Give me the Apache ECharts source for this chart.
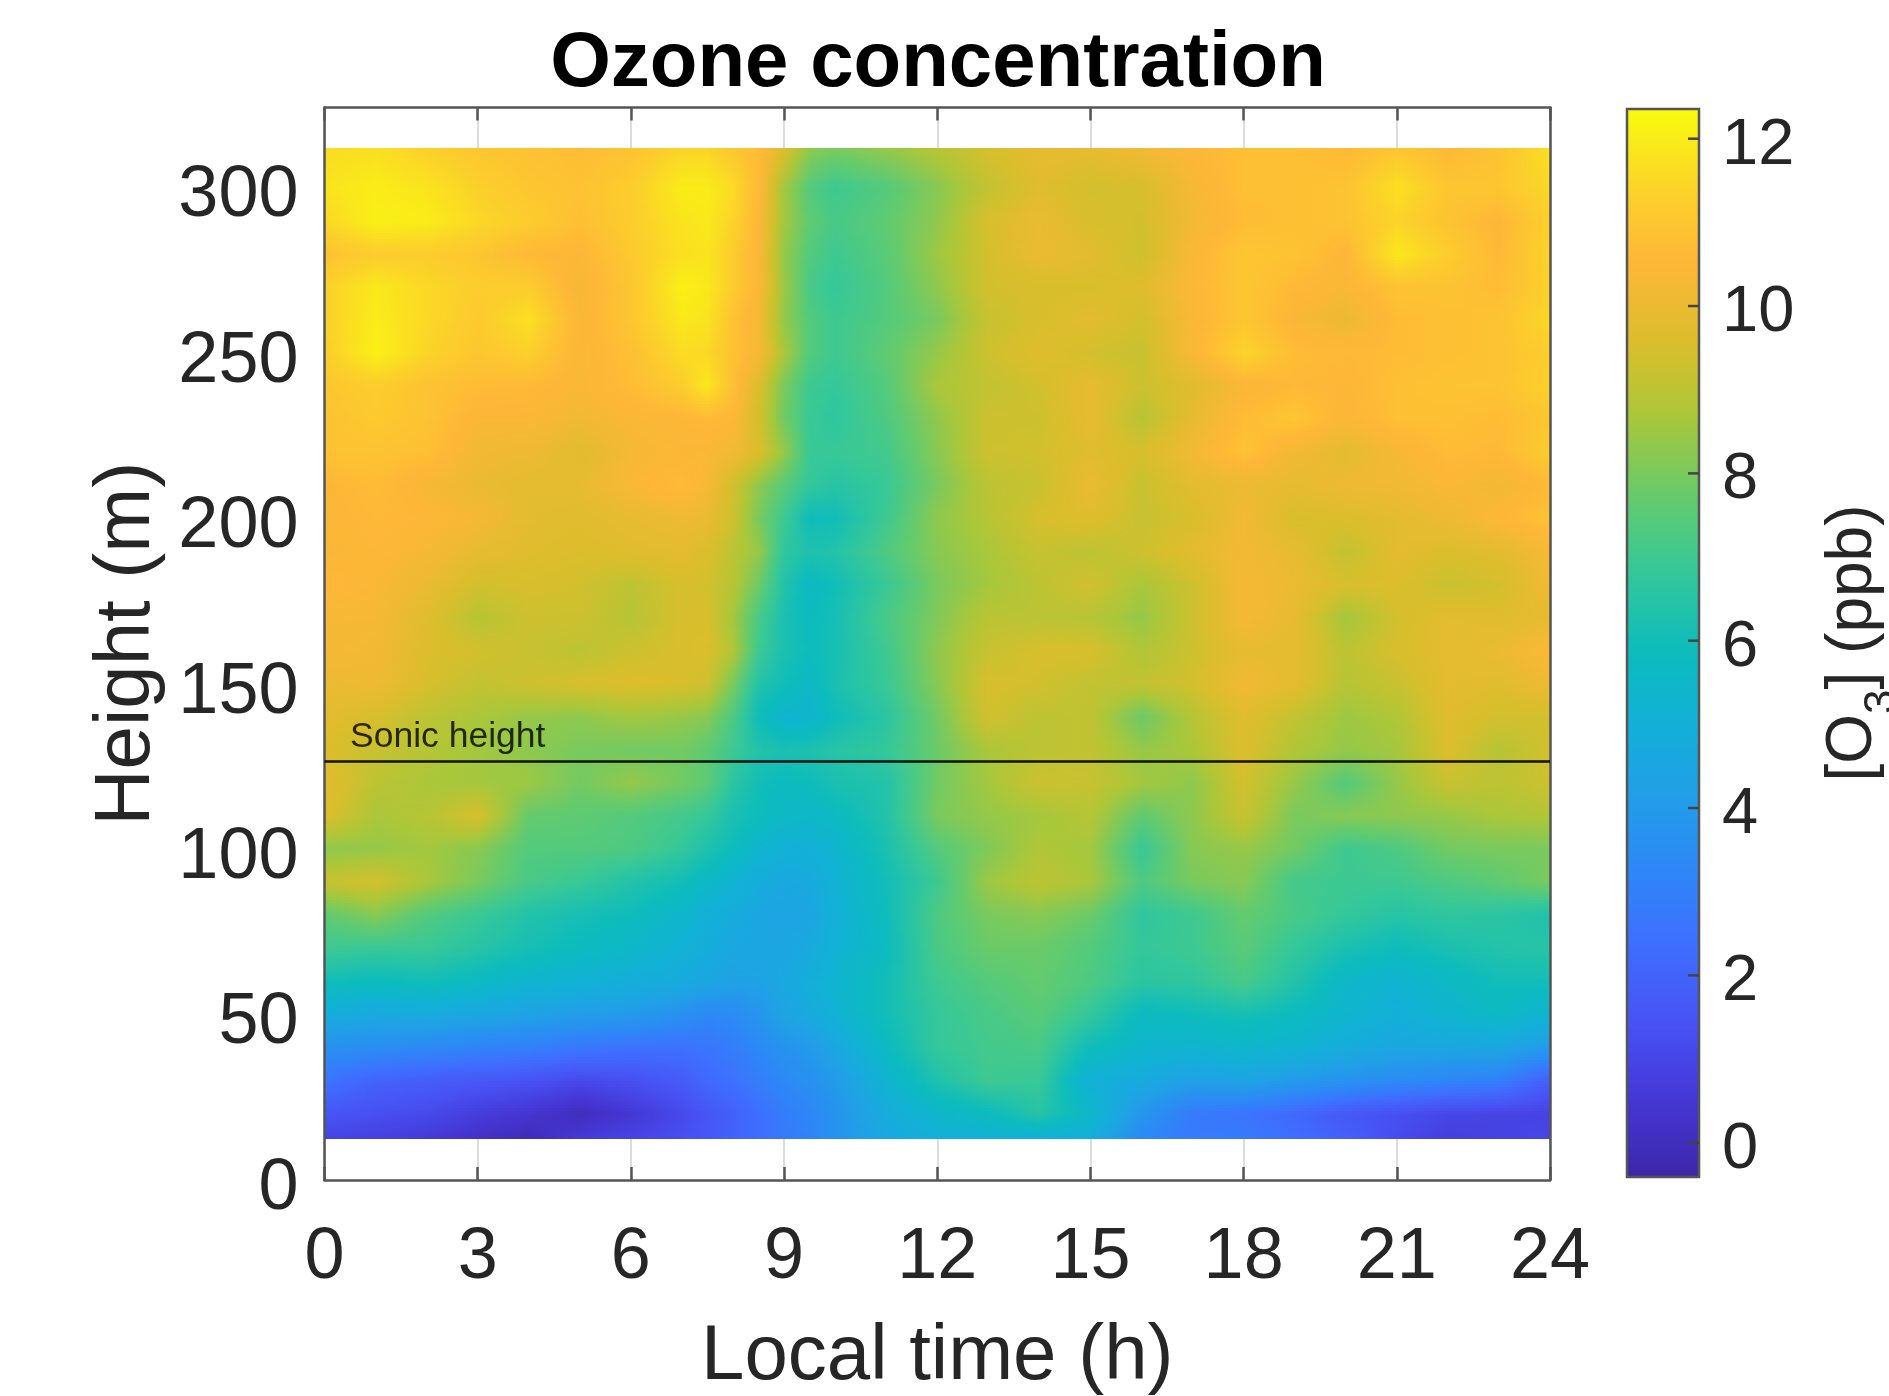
<!DOCTYPE html>
<html><head><meta charset="utf-8">
<style>html,body{margin:0;padding:0;background:#fff}#c{width:1889px;height:1396px}</style>
<script src="https://cdn.jsdelivr.net/npm/echarts@6/dist/echarts.min.js"></script>
</head><body><div id="c"></div>
<script>
const times = [0,1,2,3,4,5,6,7,7.5,8,8.5,9,9.5,10,11,12,13,14,15,16,17,18,19,20,21,22,23,24];
const heights = [312,300,290,280,270,260,250,240,230,220,210,200,190,180,170,160,150,140,130,120,110,100,90,80,70,60,50,40,30,20,12.5];
const ozone = [
[11.6,11.7,11.3,11.0,10.9,10.7,10.9,11.4,11.4,11.0,10.7,9.6,8.3,8.0,8.4,8.9,9.5,9.9,9.9,10.2,10.5,10.8,10.8,10.6,11.0,10.6,10.9,11.7],
[11.8,12.0,11.8,11.3,11.0,10.9,11.2,12.0,12.0,11.6,10.6,8.6,7.4,7.0,7.4,8.2,9.1,9.7,9.4,9.5,10.3,10.8,10.8,10.9,11.7,11.0,11.0,11.5],
[11.5,12.1,12.0,11.5,11.2,10.8,11.2,11.8,11.9,11.4,10.5,8.6,7.6,7.2,7.6,8.3,9.5,10.0,9.5,9.4,10.2,10.7,10.8,10.9,11.4,10.9,10.5,11.3],
[10.9,11.2,11.2,11.0,10.6,10.5,11.1,11.7,11.8,11.2,10.4,8.4,7.4,7.0,7.5,8.5,9.4,10.0,9.8,9.3,10.4,11.0,10.9,10.5,11.9,11.2,10.6,11.4],
[11.3,11.9,11.5,11.2,11.2,10.3,11.0,12.1,11.9,11.2,10.4,8.5,7.2,6.8,7.4,8.3,9.4,9.5,9.5,9.7,10.5,11.0,10.6,10.4,10.9,10.9,10.7,11.3],
[11.3,12.0,11.5,11.1,11.7,10.4,11.0,11.9,11.8,10.9,10.2,8.4,7.4,7.0,7.4,8.0,9.2,9.5,9.8,9.4,10.4,11.0,10.4,10.0,10.7,10.8,10.9,11.5],
[11.2,12.1,11.4,11.0,11.3,10.4,10.8,11.6,11.5,10.9,10.3,8.7,7.4,7.0,7.6,8.4,9.3,9.7,9.4,9.2,10.4,11.4,10.7,10.6,10.7,10.8,10.9,11.2],
[11.0,11.2,10.9,10.7,10.6,10.4,10.7,11.2,11.9,10.8,9.6,8.0,7.0,6.8,7.4,8.7,9.1,9.4,9.9,9.3,9.7,10.4,10.6,10.5,10.8,10.9,10.9,11.3],
[10.9,11.1,10.9,10.4,10.4,10.2,10.4,10.5,10.6,10.5,9.4,7.9,6.9,6.7,7.3,8.3,9.3,9.3,9.9,8.9,9.9,10.7,11.0,10.4,10.8,10.8,10.7,11.0],
[10.9,10.9,10.8,10.2,10.1,9.7,10.3,10.4,10.4,10.2,9.6,8.4,6.9,6.9,7.1,8.2,9.3,9.4,9.7,9.5,10.2,10.9,10.2,9.8,10.3,10.7,10.6,11.2],
[10.5,10.7,10.3,10.0,9.8,9.9,10.4,10.7,10.3,9.4,8.3,7.5,6.8,6.5,6.9,8.0,9.0,9.2,10.0,9.2,9.8,10.0,9.9,10.1,10.2,10.4,10.2,10.6],
[10.4,10.6,10.5,10.3,9.8,9.7,9.9,10.1,10.0,9.3,8.0,7.0,5.9,6.0,7.0,8.3,8.9,9.5,9.7,9.2,9.5,10.2,9.5,9.6,9.8,10.1,10.5,10.9],
[10.4,10.5,10.3,9.9,9.7,9.6,9.7,9.8,9.6,9.0,8.4,6.7,6.3,6.4,7.3,8.2,8.7,9.2,9.0,9.3,9.8,10.2,9.9,9.1,9.8,9.6,9.8,10.3],
[10.6,10.4,10.0,9.4,9.5,9.4,9.0,9.5,9.4,8.9,7.8,6.4,5.7,6.0,6.9,8.0,8.6,9.0,9.4,8.7,9.3,10.3,10.0,9.5,9.6,9.2,9.4,10.2],
[10.3,10.3,9.7,8.9,9.3,9.3,8.9,9.5,9.5,8.6,7.2,6.2,5.8,6.1,7.2,8.1,9.0,9.0,8.9,8.4,9.3,10.3,9.9,8.6,9.4,9.8,9.7,9.9],
[10.3,10.2,9.6,9.4,9.2,9.0,9.3,9.5,9.6,8.8,7.0,6.2,5.9,6.1,7.0,8.3,9.2,9.5,9.5,8.8,9.3,9.9,9.8,9.0,9.5,9.8,10.0,10.5],
[10.0,10.1,9.5,9.1,9.3,9.5,9.6,9.5,9.3,8.0,6.4,6.0,5.6,6.2,6.9,8.2,9.5,9.4,9.1,9.1,9.4,10.2,9.8,8.9,9.2,9.8,9.7,10.1],
[9.8,9.5,9.0,8.7,8.4,8.3,8.6,8.4,8.2,7.3,5.9,5.3,5.3,5.9,6.6,7.9,9.4,9.0,9.1,7.8,8.9,9.7,9.1,8.5,8.8,9.7,9.4,9.4],
[9.6,9.2,8.9,8.6,8.3,8.0,7.9,7.9,7.6,7.0,6.4,6.2,6.3,6.5,6.8,7.8,8.7,9.0,9.1,8.4,8.7,9.6,8.8,8.4,8.6,9.6,8.9,9.4],
[9.8,9.0,8.7,8.6,8.5,7.9,8.4,7.9,7.6,6.6,6.0,5.8,5.9,6.2,6.4,7.9,8.6,9.3,9.2,8.6,8.3,9.4,8.4,7.4,8.4,9.2,9.0,9.3],
[9.6,8.7,8.9,9.5,7.7,7.6,7.4,7.1,6.8,6.2,5.9,5.6,5.5,5.7,6.4,8.0,8.4,8.6,8.9,7.6,8.3,9.2,8.0,8.2,8.3,8.4,8.7,8.8],
[8.3,8.4,8.6,8.2,7.4,7.4,7.3,6.8,6.3,5.9,5.3,5.1,5.0,5.3,6.2,7.4,8.1,8.8,8.6,6.9,8.2,8.4,7.9,7.0,7.3,7.9,8.0,8.0],
[9.2,9.4,8.7,8.0,7.2,6.9,6.4,6.0,5.6,5.2,4.8,4.6,4.7,5.1,6.0,7.0,8.5,9.0,8.7,7.3,8.0,8.2,7.1,7.0,7.0,7.3,7.6,8.0],
[7.6,8.2,7.4,6.9,6.4,6.1,5.9,5.4,5.0,4.8,4.5,4.4,4.5,5.0,5.9,7.3,8.0,8.2,7.8,6.7,7.0,7.7,7.2,6.8,6.5,6.7,6.6,6.3],
[7.0,6.9,6.9,6.5,6.1,5.8,5.5,5.1,4.8,4.6,4.5,4.5,4.7,5.1,5.8,7.2,7.8,7.8,7.4,6.8,7.0,7.5,6.8,6.2,5.9,6.2,6.4,6.5],
[6.0,5.8,6.0,5.7,5.3,5.1,4.9,4.7,4.5,4.3,4.3,4.6,4.9,5.3,6.0,7.0,7.4,7.7,7.3,6.6,6.7,7.2,6.4,5.5,5.2,5.6,6.0,6.0],
[4.8,4.6,4.7,4.5,4.3,4.1,4.0,3.6,3.3,3.4,3.8,4.4,4.7,5.1,6.0,6.8,7.2,7.5,6.8,5.7,5.9,6.1,5.8,5.3,5.0,5.3,5.6,5.2],
[3.6,3.5,3.3,3.1,3.0,2.7,2.5,2.5,2.6,2.9,3.3,3.7,4.0,4.5,5.7,6.8,7.1,7.2,5.9,5.4,5.3,5.4,5.2,4.8,4.5,4.5,4.5,4.0],
[2.6,2.0,1.8,1.6,1.4,1.1,1.3,1.7,2.2,2.5,2.9,3.3,3.6,4.0,5.2,6.3,7.0,6.9,5.0,4.7,4.2,4.4,4.0,3.7,3.4,3.2,3.0,1.8],
[1.5,1.3,1.1,0.7,0.4,0.0,0.5,1.1,1.5,1.9,2.4,2.9,3.2,3.7,4.8,5.4,5.8,6.5,5.5,3.8,2.8,2.6,2.2,1.6,1.3,1.0,0.9,0.9],
[0.9,0.8,0.6,0.2,-0.1,0.6,0.9,1.3,1.6,2.0,2.4,2.8,3.1,3.7,4.6,5.0,5.1,5.0,4.9,3.3,2.8,2.8,2.4,1.9,1.2,0.7,0.9,1.0]
];
const yTicks = [0,50,100,150,200,250,300];
const barTicks = [0,2,4,6,8,10,12];
const barRange = [-0.41,12.355];
const sonicHeight = [126.5];
const sonicLabel = [[0.5,134,'Sonic height']];

const parula = [[0,.2422,.1504,.6603],[4.5,.2706,.2147,.8364],[9,.2810,.3228,.9579],[14,.2440,.4358,.9988],[18,.1786,.5289,.9682],[23,.1240,.6300,.9000],[27,.0689,.6948,.8394],[31,.0500,.7350,.7400],[36,.2161,.7843,.5923],[40,.3900,.7950,.4300],[45,.6720,.7793,.2227],[49,.8500,.7450,.1700],[54,.9970,.7159,.2199],[58,.9850,.8200,.1650],[63,.9763,.9831,.0538]];
function color(v){
  const t=Math.max(0,Math.min(63,(v-barRange[0])/(barRange[1]-barRange[0])*63));
  let i=0; while(i<parula.length-2&&parula[i+1][0]<t)i++;
  const a=parula[i],b=parula[i+1],f=(t-a[0])/(b[0]-a[0]);
  const c=k=>Math.round(255*(a[k]+(b[k]-a[k])*f));
  return 'rgb('+c(1)+','+c(2)+','+c(3)+')';
}
const cells=[];
for(let r=0;r<heights.length-1;r++)for(let c=0;c<times.length-1;c++)
  cells.push([times[c],times[c+1],heights[r+1],heights[r],ozone[r+1][c],ozone[r+1][c+1],ozone[r][c],ozone[r][c+1]]);

function renderCell(params,api){
  const p0=api.coord([api.value(0),api.value(2)]),p1=api.coord([api.value(1),api.value(3)]);
  const x0=Math.round(p0[0]),x1=Math.round(p1[0]),yb=Math.round(p0[1]),yt=Math.round(p1[1]);
  const vbl=api.value(4),vbr=api.value(5),vtl=api.value(6),vtr=api.value(7);
  const children=[],h=yb-yt,step=3,n=Math.max(1,Math.ceil(h/step));
  for(let k=0;k<n;k++){
    const ya=yt+Math.round(h*k/n),yc=yt+Math.round(h*(k+1)/n),f=(k+.5)/n;
    const l=vtl+(vbl-vtl)*f,rr=vtr+(vbr-vtr)*f,stops=[];
    for(let s=0;s<=4;s++)stops.push({offset:s/4,color:color(l+(rr-l)*s/4)});
    children.push({type:'rect',shape:{x:x0,y:ya,width:x1-x0,height:yc-ya},
      style:{fill:new echarts.graphic.LinearGradient(x0,0,x1,0,stops,true)}});
  }
  return {type:'group',children};
}
function renderBar(params,api){
  const a=api.coord([0,api.value(1)]),b=api.coord([1,api.value(2)]),stops=[];
  const lo=api.value(1),hi=api.value(2);
  for(let i=0;i<=64;i++)stops.push({offset:i/64,color:color(hi+(lo-hi)*i/64)});
  return {type:'rect',shape:{x:a[0],y:b[1],width:b[0]-a[0],height:a[1]-b[1]},
    style:{fill:new echarts.graphic.LinearGradient(0,b[1],0,a[1],stops,true),stroke:'#555',lineWidth:2.5}};
}
function renderBarTick(params,api){
  const p=api.coord([1,api.value(0)]);
  return {type:'line',shape:{x1:p[0]-11,y1:p[1],x2:p[0],y2:p[1]},style:{stroke:'#444',lineWidth:2.5}};
}
const ink='#262626',line={lineStyle:{color:'#555',width:2.5}};
const chart=echarts.init(document.getElementById('c'),null,{renderer:'canvas'});
chart.setOption({
  animation:false,backgroundColor:'#fff',
  title:{text:'Ozone concentration',left:933,top:20,textAlign:'center',textStyle:{fontFamily:'Liberation Sans',fontWeight:'bold',fontSize:78,color:'#000',lineHeight:78}},
  grid:[{left:324.5,top:107.5,width:1225.5,height:1072.5,outerBoundsMode:'none'},{left:1627,top:109,width:72,height:1068,outerBoundsMode:'none'}],
  xAxis:[
   {gridIndex:0,type:'value',min:0,max:24,interval:3,position:'bottom',z:1,name:'Local time (h)',nameLocation:'middle',nameGap:138,
    nameTextStyle:{fontFamily:'Liberation Sans',fontSize:78,color:ink},axisLine:{show:true,onZero:false,...line},
    axisTick:{show:true,inside:true,length:13,lineStyle:{color:'#555',width:2.5}},
    splitLine:{show:true,lineStyle:{color:'#dcdcdc',width:2}},
    axisLabel:{show:true,fontFamily:'Liberation Sans',fontSize:72,color:ink,margin:42,hideOverlap:false}},
   {gridIndex:0,type:'value',min:0,max:24,interval:3,position:'top',z:1,axisLine:{show:true,onZero:false,...line},
    axisTick:{show:true,inside:true,length:13,lineStyle:{color:'#555',width:2.5}},axisLabel:{show:false},splitLine:{show:false}},
   {gridIndex:1,type:'value',min:0,max:1,show:false}
  ],
  yAxis:[
   {gridIndex:0,type:'value',min:0,max:324.2,position:'left',z:3,name:'Height (m)',nameLocation:'middle',nameGap:158,nameRotate:90,
    nameTextStyle:{fontFamily:'Liberation Sans',fontSize:78,color:ink},axisLine:{show:true,onZero:false,...line},axisTick:{show:false},
    splitLine:{show:false},axisLabel:{show:true,customValues:yTicks,formatter:'{a|{value}}',margin:26,verticalAlign:'middle',
      rich:{a:{fontFamily:'Liberation Sans',fontSize:72,color:ink,padding:[18,0,0,0]}}}},
   {gridIndex:0,type:'value',min:0,max:324.2,position:'right',z:3,axisLine:{show:true,onZero:false,...line},axisTick:{show:false},axisLabel:{show:false},splitLine:{show:false}},
   {gridIndex:1,type:'value',min:barRange[0],max:barRange[1],position:'right',z:3,name:'{a|[O}{s|3}{a|] (ppb)}',nameLocation:'middle',nameGap:122,nameRotate:90,
    nameTextStyle:{rich:{a:{fontFamily:'Liberation Sans',fontSize:64,color:ink,verticalAlign:'top',padding:[0,0,20,0]},s:{fontFamily:'Liberation Sans',fontSize:44,color:ink,verticalAlign:'bottom'}}},
    axisLine:{show:false},axisTick:{show:false},splitLine:{show:false},
    axisLabel:{show:true,customValues:barTicks,formatter:'{a|{value}}',margin:23,verticalAlign:'middle',
      rich:{a:{fontFamily:'Liberation Sans',fontSize:65,color:ink,padding:[14,0,0,0]}}}}
  ],
  series:[
   {type:'custom',name:'Ozone',coordinateSystem:'cartesian2d',xAxisIndex:0,yAxisIndex:0,renderItem:renderCell,data:cells,silent:true,z:2,encode:{x:[0,1],y:[2,3]},progressive:0,clip:false},
   {type:'line',name:'Sonic height',xAxisIndex:0,yAxisIndex:0,data:[[0,sonicHeight[0]],[24,sonicHeight[0]]],symbol:'none',z:4,silent:true,lineStyle:{color:'#111',width:2.5}},
   {type:'scatter',xAxisIndex:0,yAxisIndex:0,symbolSize:0,z:5,silent:true,data:sonicLabel,
    label:{show:true,position:'right',distance:0,formatter:p=>p.value[2],fontFamily:'Liberation Sans',fontSize:35.5,color:'#000'}},
   {type:'custom',name:'Colorbar',coordinateSystem:'cartesian2d',xAxisIndex:2,yAxisIndex:2,renderItem:renderBar,data:[[0,barRange[0],barRange[1]]],silent:true,z:2,encode:{x:0,y:[1,2]}},
   {type:'custom',name:'Colorbar ticks',coordinateSystem:'cartesian2d',xAxisIndex:2,yAxisIndex:2,renderItem:renderBarTick,data:barTicks.map(v=>[v]),silent:true,z:4,encode:{y:0}}
  ]
});
</script></body></html>
